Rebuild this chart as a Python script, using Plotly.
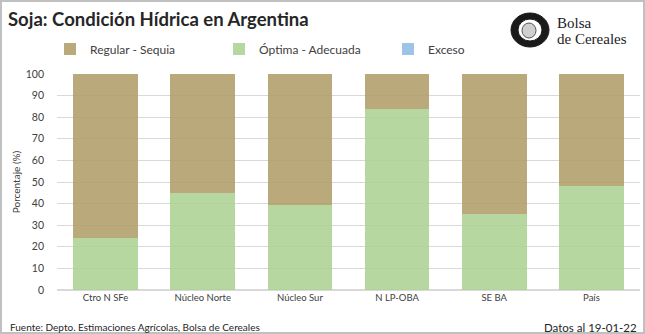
import plotly.graph_objects as go

categories = ["Ctro N SFe", "Núcleo Norte", "Núcleo Sur", "N LP-OBA", "SE BA", "País"]
optima = [24, 45, 39.5, 84, 35, 48]
regular = [76, 55, 60.5, 16, 65, 52]
exceso = [0, 0, 0, 0, 0, 0]
y_ticks = [0, 10, 20, 30, 40, 50, 60, 70, 80, 90, 100]

W, H = 645, 334
L, R, T, B = 57, 5, 74, 44
PW, PH = W - L - R, H - T - B

def px(x):
    return (x - L) / PW

def py(y):
    return (H - B - y) / PH

FONT = "Lato, Carlito, 'Open Sans', sans-serif"
SERIF = "'Liberation Serif', 'DejaVu Serif', serif"

fig = go.Figure()
fig.add_trace(go.Bar(name="Óptima - Adecuada", x=categories, y=optima, legendrank=2,
                     marker=dict(color="rgba(172,209,146,0.87)", line=dict(width=0))))
fig.add_trace(go.Bar(name="Regular - Sequia", x=categories, y=regular, legendrank=1,
                     marker=dict(color="rgba(176,156,102,0.87)", line=dict(width=0))))
fig.add_trace(go.Bar(name="Exceso", x=categories, y=exceso, legendrank=3,
                     marker=dict(color="#9DC3E6", line=dict(width=0))))

fig.update_layout(
    width=W, height=H,
    margin=dict(l=L, r=R, t=T, b=B),
    barmode="stack", bargap=0.335,
    paper_bgcolor="white", plot_bgcolor="white",
    font=dict(family=FONT, size=11, color="#404040"),
    legend=dict(orientation="h", x=px(50), y=py(49), xanchor="left", yanchor="middle",
                traceorder="normal",
                entrywidth=124, entrywidthmode="pixels",
                font=dict(size=12, color="#404040"), itemwidth=30,
                bgcolor="rgba(0,0,0,0)"),
    xaxis=dict(showgrid=False, showline=False, ticks="", tickfont=dict(size=9.5, color="#404040")),
    yaxis=dict(range=[0, 100], tickvals=y_ticks, showgrid=True, gridcolor="#d9d9d9",
               gridwidth=1, zeroline=True, zerolinecolor="#d9d9d9", showline=False,
               tickfont=dict(size=10.5, color="#404040"), ticklabelstandoff=12,
               title=dict(text="Porcentaje (%)", font=dict(size=10, color="#404040"), standoff=3)),
    showlegend=True,
)

# border
fig.add_shape(type="rect", xref="paper", yref="paper",
              x0=px(1), x1=px(644), y0=py(333), y1=py(1),
              line=dict(color="#c0c0c0", width=2), fillcolor="rgba(0,0,0,0)", layer="below")

# title
fig.add_annotation(text="<b>Soja: Condición Hídrica en Argentina</b>", xref="paper", yref="paper",
                   x=px(6), y=py(19), xanchor="left", yanchor="middle", showarrow=False,
                   font=dict(size=18.5, color="#262626", family=FONT))

# logo
fig.add_shape(type="circle", xref="paper", yref="paper",
              x0=px(511), x1=px(549), y0=py(47), y1=py(13),
              line=dict(color="#1a1a1a", width=1), fillcolor="#1a1a1a")
fig.add_shape(type="circle", xref="paper", yref="paper",
              x0=px(518), x1=px(542), y0=py(41), y1=py(19),
              line=dict(color="#1a1a1a", width=1), fillcolor="white")
fig.add_shape(type="circle", xref="paper", yref="paper",
              x0=px(522), x1=px(536), y0=py(38), y1=py(23),
              line=dict(color="#555", width=1), fillcolor="#cfcfcf")
fig.add_annotation(text="Bolsa", xref="paper", yref="paper",
                   x=px(555), y=py(23), xanchor="left", yanchor="middle", showarrow=False,
                   font=dict(size=15, color="#222", family=SERIF))
fig.add_annotation(text="de Cereales", xref="paper", yref="paper",
                   x=px(555), y=py(39.5), xanchor="left", yanchor="middle", showarrow=False,
                   font=dict(size=15, color="#222", family=SERIF))

# footer
fig.add_annotation(text="Fuente: Depto. Estimaciones Agrícolas, Bolsa de Cereales", xref="paper", yref="paper",
                   x=px(8), y=py(327), xanchor="left", yanchor="middle", showarrow=False,
                   font=dict(size=10, color="#262626", family=FONT))
fig.add_annotation(text="Datos al 19-01-22", xref="paper", yref="paper",
                   x=px(639), y=py(327), xanchor="right", yanchor="middle", showarrow=False,
                   font=dict(size=11.5, color="#262626", family=FONT))

fig.write_html("out.html")
